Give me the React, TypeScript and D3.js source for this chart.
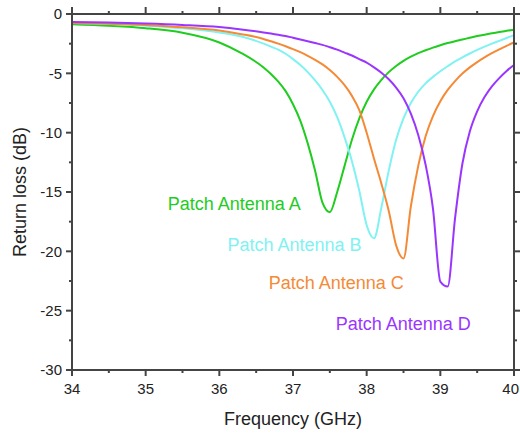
import React from 'react'
import * as d3 from 'd3'

const width = 520
const height = 436
const margin = { left: 72, top: 14, right: 6, bottom: 66 }

// frequency grid (GHz)
const freq = [
  34, 34.5, 35, 35.5, 36, 36.3, 36.6, 36.7, 36.8, 36.9,
  37.0, 37.1, 37.2, 37.3, 37.4, 37.5, 37.6, 37.7, 37.8, 37.9,
  38.0, 38.1, 38.2, 38.3, 38.4, 38.5, 38.6, 38.7, 38.8, 38.9,
  39.0, 39.1, 39.2, 39.3, 39.4, 39.5, 39.6, 39.7, 39.8, 39.9, 40.0,
]

// return loss (dB)
const antennaA = [
  -0.87, -1.0, -1.2, -1.58, -2.4, -3.3, -4.5, -5.05, -5.7, -6.5,
  -7.6, -9.0, -10.9, -13.2, -15.9, -16.7, -15.0, -12.8, -10.6, -8.8,
  -7.4, -6.35, -5.55, -4.9, -4.38, -3.95, -3.6, -3.3, -3.05, -2.83,
  -2.63, -2.45, -2.29, -2.15, -2.0, -1.86, -1.74, -1.63, -1.52, -1.42, -1.32,
]
const antennaB = [
  -0.75, -0.85, -0.98, -1.2, -1.55, -1.9, -2.5, -2.75, -3.0, -3.35,
  -3.8, -4.3, -4.9, -5.6, -6.4, -7.4, -8.7, -10.4, -12.4, -14.9,
  -17.8, -18.9, -16.3, -13.2, -10.6, -8.8, -7.5, -6.55, -5.85, -5.3,
  -4.82, -4.4, -4.0, -3.65, -3.33, -3.03, -2.75, -2.5, -2.26, -2.02, -1.78,
]
const antennaC = [
  -0.75, -0.82, -0.92, -1.12, -1.4, -1.7, -2.1, -2.3, -2.5, -2.72,
  -2.96, -3.22, -3.52, -3.86, -4.25, -4.72, -5.3, -6.0, -6.9, -8.1,
  -10.0, -12.2, -14.3, -16.6, -19.5, -20.6, -16.2, -12.8, -10.3, -8.6,
  -7.35, -6.4, -5.65, -5.02, -4.5, -4.05, -3.65, -3.3, -2.98, -2.68, -2.4,
]
const antennaD = [
  -0.68, -0.72, -0.8, -0.92, -1.1, -1.3, -1.55, -1.65, -1.75, -1.85,
  -2.0, -2.15, -2.3, -2.45, -2.6, -2.8, -3.0, -3.25, -3.5, -3.8,
  -4.1, -4.5, -4.95, -5.5, -6.2, -7.1, -8.4, -10.2, -12.7, -16.4,
  -22.55, -22.97, -17.2, -12.6, -9.9, -8.2, -7.0, -6.1, -5.4, -4.8, -4.3,
]

const seriesNames = ['Patch Antenna A', 'Patch Antenna B', 'Patch Antenna C', 'Patch Antenna D']
const seriesColors = ['#1fcc1f', '#80f2f2', '#f58a36', '#9a35ff']
const seriesValues = [antennaA, antennaB, antennaC, antennaD]
// label anchors in data units (GHz, dB)
const labelAnchors = [[35.3, -16.52], [36.11, -19.97], [36.67, -23.2], [37.58, -26.63]]

const xTicks = [34, 35, 36, 37, 38, 39, 40]
const yTicks = [0, -5, -10, -15, -20, -25, -30]

const axisColor = '#444'
const font = 'Arial, "Liberation Sans", Helvetica, sans-serif'

export default function App() {
  const x = d3.scaleLinear().domain([34, 40]).range([margin.left, width - margin.right])
  const y = d3.scaleLinear().domain([-30, 0]).range([height - margin.bottom, margin.top])

  const line = d3.line<[number, number]>()
    .x(d => x(d[0]))
    .y(d => y(d[1]))
    .curve(d3.curveMonotoneX)

  const x0 = x.range()[0], x1 = x.range()[1]
  const y0 = y.range()[1], y1 = y.range()[0]

  const xMinor = xTicks.slice(0, -1).map(t => t + 0.5)
  const yMinor = yTicks.slice(0, -1).map(t => t - 2.5)

  return (
    <svg width={width} height={height} style={{ position: 'absolute', left: 0, top: 0, background: '#fff' }}>
      <g className="series" fill="none" strokeWidth={2} strokeLinejoin="round">
        {seriesValues.map((vals, i) => (
          <path key={i} d={line(freq.map((f, j) => [f, vals[j]] as [number, number])) || ''} stroke={seriesColors[i]} />
        ))}
      </g>

      <g className="labels" fontFamily={font} fontSize={18}>
        {seriesNames.map((n, i) => (
          <text key={n} x={x(labelAnchors[i][0])} y={y(labelAnchors[i][1])} fill={seriesColors[i]}>{n}</text>
        ))}
      </g>

      <g className="frame" stroke={axisColor} strokeWidth={2} fill="none">
        <rect x={x0} y={y0} width={x1 - x0} height={y1 - y0} />
        {xTicks.map(t => (
          <g key={'xt' + t}>
            <line x1={x(t)} x2={x(t)} y1={y1} y2={y1 + 6} />
            <line x1={x(t)} x2={x(t)} y1={y0} y2={y0 - 7} />
          </g>
        ))}
        {xMinor.map(t => (
          <g key={'xm' + t}>
            <line x1={x(t)} x2={x(t)} y1={y1} y2={y1 + 3} />
            <line x1={x(t)} x2={x(t)} y1={y0} y2={y0 - 3} />
          </g>
        ))}
        {yTicks.map(t => (
          <g key={'yt' + t}>
            <line x1={x0} x2={x0 - 6} y1={y(t)} y2={y(t)} />
            <line x1={x1} x2={x1 + 6} y1={y(t)} y2={y(t)} />
          </g>
        ))}
        {yMinor.map(t => (
          <g key={'ym' + t}>
            <line x1={x0} x2={x0 - 3} y1={y(t)} y2={y(t)} />
            <line x1={x1} x2={x1 + 3} y1={y(t)} y2={y(t)} />
          </g>
        ))}
      </g>

      <g className="tick-labels" fontFamily={font} fontSize={15} fill="#222">
        {xTicks.map((t, i) => (
          // last label is pulled in so it stays inside the picture
          <text key={'xl' + t} x={i === xTicks.length - 1 ? width - 1 : x(t)} y={y1 + 24}
            textAnchor={i === xTicks.length - 1 ? 'end' : 'middle'}>{t}</text>
        ))}
        {yTicks.map(t => (
          <text key={'yl' + t} x={x0 - 10} y={y(t)} dy="0.35em" textAnchor="end">{t}</text>
        ))}
      </g>

      <text x={(x0 + x1) / 2} y={425} textAnchor="middle" fontFamily={font} fontSize={18} fill="#222">Frequency (GHz)</text>
      <text transform={`translate(26, ${(y0 + y1) / 2}) rotate(-90)`} textAnchor="middle" fontFamily={font} fontSize={18} fill="#222">Return loss (dB)</text>
    </svg>
  )
}
